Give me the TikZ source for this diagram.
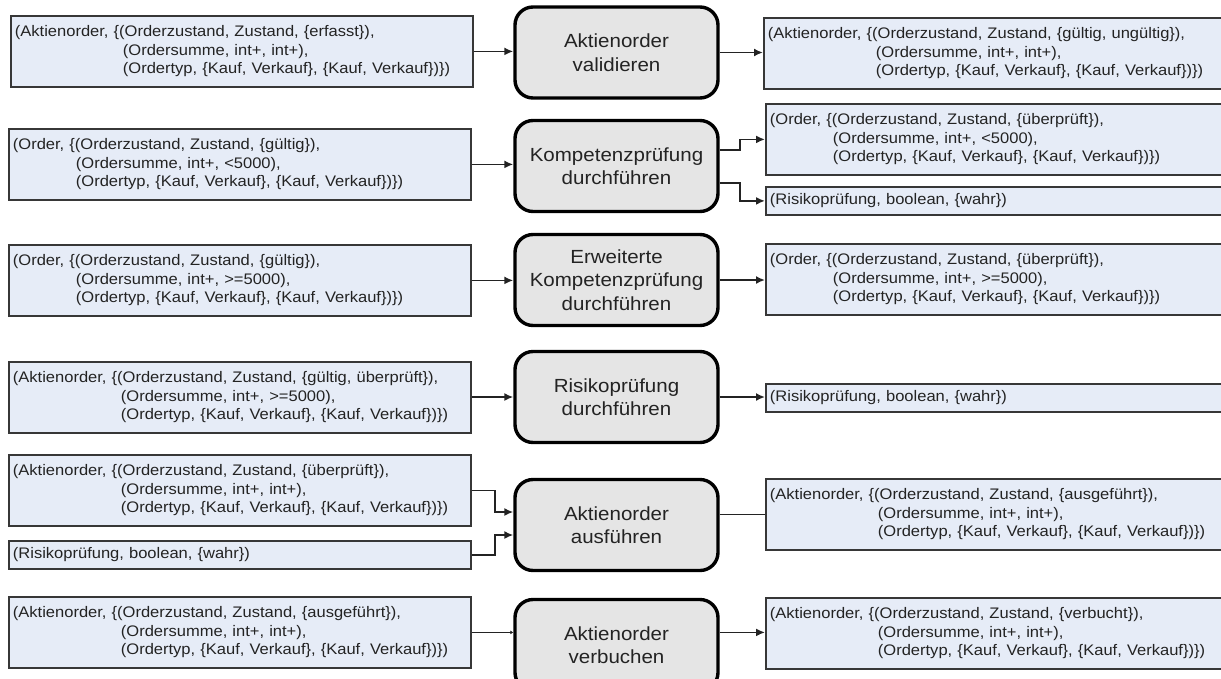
\documentclass[tikz,border=0pt]{standalone}
\usepackage{fontspec}
\setmainfont{Liberation Sans}
\newfontfamily\boxfont{Liberation Sans}[FakeStretch=1.08]
\usetikzlibrary{arrows.meta,calc}
\definecolor{datafill}{RGB}{230,236,247}
\definecolor{procfill}{RGB}{229,229,229}
\definecolor{edgegray}{RGB}{55,55,55}
\definecolor{inkgray}{RGB}{35,35,35}
\newcommand{\ia}{\hspace*{108pt}}
\newcommand{\io}{\hspace*{63pt}}
\begin{document}
\begin{tikzpicture}[x=1pt,y=-1pt,
  databox/.style={draw=edgegray, line width=1.8pt, fill=datafill, anchor=north west,
    inner xsep=4pt, inner ysep=0pt, align=left, text=inkgray,
    font=\boxfont\fontsize{15.3}{18.5}\selectfont},
  lbox/.style={databox, text width=454pt},
  rbox/.style={databox, text width=468pt},
  three/.style={minimum height=71pt},
  one/.style={minimum height=28pt},
  proc/.style={draw=black, line width=3.4pt, fill=procfill, rounded corners=18pt,
    minimum width=203pt, minimum height=91pt, inner sep=0pt, align=center,
    text=inkgray, font=\boxfont\fontsize{19}{23.5}\selectfont},
  arr/.style={draw=inkgray, line width=1.7pt, -{Latex[length=9pt,width=8pt]}},
  plain/.style={draw=inkgray, line width=1.7pt},
  smallarr/.style={draw=inkgray, line width=1.7pt, -{Latex[length=3pt,width=4pt]}}
]
\useasboundingbox (0,0) rectangle (1221,678);
\clip (0,0) rectangle (1221,678);

% ---------- row 1: validate order ----------
\node[lbox,three] (L1) at (10,15) {(Aktienorder, \{(Orderzustand, Zustand, \{erfasst\}),\\
\ia(Ordersumme, int+, int+),\\
\ia(Ordertyp, \{Kauf, Verkauf\}, \{Kauf, Verkauf\})\})};
\node[proc] (P1) at (616.5,52.5) {Aktienorder\\validieren};
\node[rbox,three] (R1) at (763,17) {(Aktienorder, \{(Orderzustand, Zustand, \{gültig, ungültig\}),\\
\ia(Ordersumme, int+, int+),\\
\ia(Ordertyp, \{Kauf, Verkauf\}, \{Kauf, Verkauf\})\})};

% ---------- row 2: competence check ----------
\node[lbox,three] (L2) at (8,128) {(Order, \{(Orderzustand, Zustand, \{gültig\}),\\
\io(Ordersumme, int+, <5000),\\
\io(Ordertyp, \{Kauf, Verkauf\}, \{Kauf, Verkauf\})\})};
\node[proc] (P2) at (616.5,166) {Kompetenzprüfung\\durchführen};
\node[rbox,three] (R2a) at (765,103) {(Order, \{(Orderzustand, Zustand, \{überprüft\}),\\
\io(Ordersumme, int+, <5000),\\
\io(Ordertyp, \{Kauf, Verkauf\}, \{Kauf, Verkauf\})\})};
\node[rbox,one] (R2b) at (765,186) {(Risikoprüfung, boolean, \{wahr\})};

% ---------- row 3: extended competence check ----------
\node[lbox,three] (L3) at (8,244) {(Order, \{(Orderzustand, Zustand, \{gültig\}),\\
\io(Ordersumme, int+, >=5000),\\
\io(Ordertyp, \{Kauf, Verkauf\}, \{Kauf, Verkauf\})\})};
\node[proc] (P3) at (616.5,280) {Erweiterte\\Kompetenzprüfung\\durchführen};
\node[rbox,three] (R3) at (765,243) {(Order, \{(Orderzustand, Zustand, \{überprüft\}),\\
\io(Ordersumme, int+, >=5000),\\
\io(Ordertyp, \{Kauf, Verkauf\}, \{Kauf, Verkauf\})\})};

% ---------- row 4: risk check ----------
\node[lbox,three] (L4) at (8,361) {(Aktienorder, \{(Orderzustand, Zustand, \{gültig, überprüft\}),\\
\ia(Ordersumme, int+, >=5000),\\
\ia(Ordertyp, \{Kauf, Verkauf\}, \{Kauf, Verkauf\})\})};
\node[proc] (P4) at (616.5,397) {Risikoprüfung\\durchführen};
\node[rbox,one] (R4) at (765,383) {(Risikoprüfung, boolean, \{wahr\})};

% ---------- row 5: execute order ----------
\node[lbox,three] (L5a) at (8,454) {(Aktienorder, \{(Orderzustand, Zustand, \{überprüft\}),\\
\ia(Ordersumme, int+, int+),\\
\ia(Ordertyp, \{Kauf, Verkauf\}, \{Kauf, Verkauf\})\})};
\node[lbox,one] (L5b) at (8,540) {(Risikoprüfung, boolean, \{wahr\})};
\node[proc] (P5) at (616.5,525) {Aktienorder\\ausführen};
\node[rbox,three] (R5) at (765,478) {(Aktienorder, \{(Orderzustand, Zustand, \{ausgeführt\}),\\
\ia(Ordersumme, int+, int+),\\
\ia(Ordertyp, \{Kauf, Verkauf\}, \{Kauf, Verkauf\})\})};

% ---------- row 6: book order ----------
\node[lbox,three] (L6) at (8,596) {(Aktienorder, \{(Orderzustand, Zustand, \{ausgeführt\}),\\
\ia(Ordersumme, int+, int+),\\
\ia(Ordertyp, \{Kauf, Verkauf\}, \{Kauf, Verkauf\})\})};
\node[proc] (P6) at (616.5,645) {Aktienorder\\verbuchen};
\node[rbox,three] (R6) at (765,597) {(Aktienorder, \{(Orderzustand, Zustand, \{verbucht\}),\\
\ia(Ordersumme, int+, int+),\\
\ia(Ordertyp, \{Kauf, Verkauf\}, \{Kauf, Verkauf\})\})};

% ---------- connectors ----------
\draw[arr] (L1.east) -- (L1.east -| P1.west);
\draw[arr] (P1.east) -- (P1.east -| R1.west);

\draw[arr] (L2.east) -- (L2.east -| P2.west);
\draw[arr] ($(P2.east)+(0,-16)$) -- ++(20,0) |- (R2a.west);
\draw[arr] ($(P2.east)+(0,17)$) -- ++(20,0) |- (R2b.west);

\draw[arr] (L3.east) -- (L3.east -| P3.west);
\draw[arr] (P3.east) -- (P3.east -| R3.west);

\draw[arr] (L4.east |- P4.west) -- (P4.west);
\draw[arr] (P4.east) -- (P4.east -| R4.west);

\draw[arr] (L5a.east) -- ++(23,0) |- ($(P5.west)+(0,-13)$);
\draw[arr] (L5b.east) -- ++(23,0) |- ($(P5.west)+(0,10)$);
\draw[plain] (R5.west -| P5.east) -- (R5.west);

\draw[smallarr] (L6.east) -- (L6.east -| P6.west);
\draw[arr] (L6.east -| P6.east) -- (L6.east -| R6.west);
\end{tikzpicture}
\end{document}
